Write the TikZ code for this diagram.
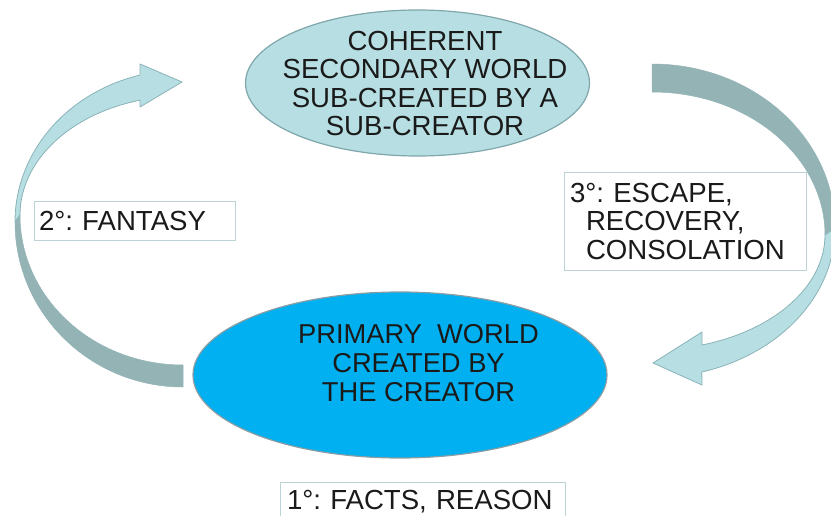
\documentclass[tikz,border=0pt]{standalone}
\usepackage{fontspec}
\setmainfont{Liberation Sans}
\usetikzlibrary{shapes.geometric}
\definecolor{lightband}{HTML}{B7DEE2}
\definecolor{darkband}{HTML}{93B3B5}
\definecolor{bandedge}{HTML}{8AB3B8}
\definecolor{secfill}{HTML}{B7DFE3}
\definecolor{secedge}{HTML}{7FA6AB}
\definecolor{primfill}{HTML}{00B0F0}
\definecolor{primedge}{HTML}{8A9DA5}
\definecolor{boxedge}{HTML}{BDD2D5}
\definecolor{txt}{HTML}{1A1A1A}
\tikzset{
  worldtext/.style 2 args={inner sep=0pt, align=center, text=txt, font=\fontsize{#1}{#2}\selectfont},
  labelbox/.style={draw=boxedge, line width=0.9pt, fill=white, text=txt, align=left,
     font=\fontsize{27.6}{28.5}\selectfont, anchor=center},
  lightpart/.style={fill=lightband, draw=bandedge, line width=0.8pt, line join=round},
  darkpart/.style={fill=darkband, draw=darkband, line width=0.5pt},
}
\frenchspacing
\begin{document}
\begin{tikzpicture}[x=1pt,y=1pt]
\useasboundingbox (0,0) rectangle (831,515);

% ---- left curved arrow (2: fantasy) ----
\coordinate (lbot) at (183,128);
\coordinate (ltip) at (182,433);
\fill[darkpart] (lbot) arc[start angle=270, end angle=180, x radius=168, y radius=165]
   -- (20,300) arc[start angle=180, end angle=270, x radius=163, y radius=150] -- cycle;
\filldraw[lightpart] (15,293) arc[start angle=180, end angle=104.8, x radius=168, y radius=152]
   -- (140,451) -- (ltip) -- (140,408) -- (140,414.8)
   arc[start angle=105.3, end angle=180, x radius=163, y radius=119] -- cycle;

% ---- right curved arrow (3: escape) ----
\coordinate (rtop) at (652,451);
\coordinate (rtip) at (653,152);
\fill[darkpart] (rtop) arc[start angle=90, end angle=0, x radius=183, y radius=164]
   -- (825,280) arc[start angle=0, end angle=90, x radius=173, y radius=143] -- cycle;
\filldraw[lightpart] (835,287) arc[start angle=0, end angle=-74.2, x radius=183, y radius=149.7]
   -- (702,130) -- (rtip) -- (702,183) -- (702,170)
   arc[start angle=-73.2, end angle=0, x radius=173, y radius=115] -- cycle;

% ---- worlds ----
\node[ellipse, draw=secedge, line width=1.2pt, fill=secfill, minimum width=344pt,
      minimum height=146pt, inner sep=0pt] (sec) at (417.5,432) {};
\node[worldtext={27.6}{28.6}] (sectext) at (425,431.5)
  {COHERENT\\SECONDARY WORLD\\SUB-CREATED BY A\\SUB-CREATOR};

\node[ellipse, draw=primedge, line width=1.2pt, fill=primfill, minimum width=414pt,
      minimum height=166pt, inner sep=0pt] (prim) at (400,140) {};
\node[worldtext={27.3}{29.2}] (primtext) at (418.5,152)
  {PRIMARY\ \ WORLD\\CREATED BY\\THE CREATOR};

% ---- labels ----
\node[labelbox, minimum width=201pt, minimum height=39pt, text width=191pt,
      inner xsep=5pt, inner ysep=0pt] (fantasy) at (134.5,294.5) {2°: FANTASY};
\node[labelbox, minimum width=242pt, minimum height=98pt, text width=230pt,
      inner xsep=6pt, inner ysep=0pt] (escape) at (685,293.5)
  {3°: ESCAPE,\\\hspace*{16pt}RECOVERY,\\\hspace*{16pt}CONSOLATION};
\node[labelbox, minimum width=285pt, minimum height=40pt, text width=271pt,
      inner xsep=7pt, inner ysep=0pt] (facts) at (422.5,13) {1°: FACTS, REASON};
\end{tikzpicture}
\end{document}
